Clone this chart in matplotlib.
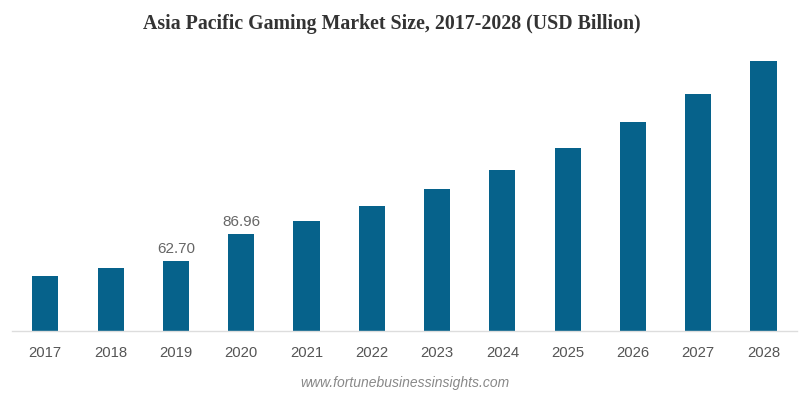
import matplotlib
matplotlib.use("Agg")
import matplotlib.pyplot as plt

years = ["2017", "2018", "2019", "2020", "2021", "2022", "2023", "2024", "2025", "2026", "2027", "2028"]
values = [49.7, 56.3, 62.70, 86.96, 99.2, 112.3, 127.6, 144.9, 164.4, 187.5, 213.2, 242.2]
labels = {2: "62.70", 3: "86.96"}

fig = plt.figure(figsize=(8, 3.98), dpi=100)
ax = fig.add_axes([0.015, 0.1683, 0.981, 0.7057])
x = list(range(len(years)))
ax.bar(x, values, width=0.4, color="#06628B", zorder=2)
ax.set_xlim(-0.51, 11.51)
ax.set_ylim(0, 252.3)
ax.set_xticks(x)
ax.set_xticklabels(years, fontsize=10.7, color="#555555", family=["Liberation Sans", "DejaVu Sans"])
ax.tick_params(axis="x", length=0, pad=10.5)
ax.set_yticks([])
for s in ["top", "right", "left"]:
    ax.spines[s].set_visible(False)
ax.spines["bottom"].set_color("#dddddd")
ax.spines["bottom"].set_linewidth(1)
for i, t in labels.items():
    ax.annotate(t, (i, values[i]), xytext=(0, 4), textcoords="offset points",
                ha="center", va="bottom", fontsize=11, color="#666666",
                family=["Liberation Sans", "DejaVu Sans"])

fig.text(391.5 / 800, 1 - 23.5 / 398, "Asia Pacific Gaming Market Size, 2017-2028 (USD Billion)",
         ha="center", va="center", fontsize=14.3, fontweight="bold", color="#333333",
         family=["Liberation Serif", "DejaVu Serif"])
fig.text(404.5 / 800, 1 - 383 / 398, "www.fortunebusinessinsights.com", ha="center", va="center",
         fontsize=10, style="italic", color="#888888", family=["Liberation Sans", "DejaVu Sans"])

fig.savefig("out.png", dpi=100)
